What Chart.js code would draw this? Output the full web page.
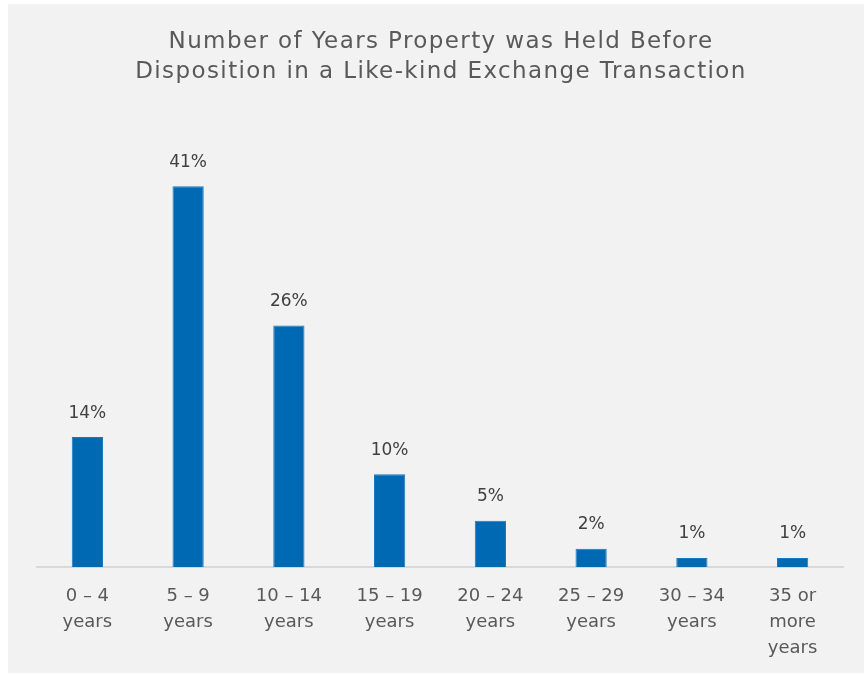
<!DOCTYPE html>
<html>
<head>
<meta charset="utf-8">
<script src="https://cdn.jsdelivr.net/npm/chart.js@4/dist/chart.umd.min.js"></script>
<style>
  html, body { margin: 0; padding: 0; background: #ffffff; }
  #panel { position: absolute; left: 8px; top: 4px; width: 856px; height: 669px; background: #f2f2f2; }
</style>
</head>
<body>
<div id="panel"><canvas id="chart" width="856" height="669"></canvas></div>
<script>
// Holding-period buckets and share of exchanges in each
const categories = [
  ["0 – 4", "years"],
  ["5 – 9", "years"],
  ["10 – 14", "years"],
  ["15 – 19", "years"],
  ["20 – 24", "years"],
  ["25 – 29", "years"],
  ["30 – 34", "years"],
  ["35 or", "more", "years"]
];
const sharePercent = [14, 41, 26, 10, 5, 2, 1, 1];
const titleLines = [
  "Number of Years Property was Held Before",
  "Disposition in a Like-kind Exchange Transaction"
];

const FONT = "'DejaVu Sans', sans-serif";

// Two-line heading, drawn with a little extra tracking
const heading = {
  id: "heading",
  afterDraw(chart) {
    const ctx = chart.ctx;
    const cx = (chart.chartArea.left + chart.chartArea.right) / 2;
    ctx.save();
    ctx.font = "23px " + FONT;
    ctx.letterSpacing = "1.4px";
    ctx.fillStyle = "#595959";
    ctx.textAlign = "center";
    ctx.textBaseline = "middle";
    titleLines.forEach((line, i) => {
      ctx.fillText(line, cx + 1, 38 + i * 30);
    });
    ctx.restore();
  }
};

// Percentage labels above each bar
const valueLabels = {
  id: "valueLabels",
  afterDatasetsDraw(chart) {
    const ctx = chart.ctx;
    const meta = chart.getDatasetMeta(0);
    ctx.save();
    ctx.font = "17px " + FONT;
    ctx.fillStyle = "#404040";
    ctx.textAlign = "center";
    ctx.textBaseline = "middle";
    meta.data.forEach((bar, i) => {
      ctx.fillText(sharePercent[i] + "%", bar.x, bar.y - 24);
    });
    ctx.restore();
  }
};

new Chart(document.getElementById("chart"), {
  type: "bar",
  data: {
    labels: categories,
    datasets: [{
      data: sharePercent,
      backgroundColor: "#0069b4",
      borderColor: "#1a78bd",
      borderWidth: 1,
      categoryPercentage: 1,
      barPercentage: 0.31
    }]
  },
  options: {
    responsive: false,
    animation: false,
    layout: { padding: { left: 29, right: 21, top: 145, bottom: 4 } },
    plugins: {
      legend: { display: false },
      tooltip: { enabled: false },
      title: { display: false }
    },
    scales: {
      x: {
        grid: { display: false },
        border: { display: true, color: "#d9d9d9", width: 2 },
        ticks: {
          color: "#595959",
          font: { family: FONT, size: 18, lineHeight: 1.44 },
          padding: 8,
          maxRotation: 0,
          autoSkip: false
        }
      },
      y: {
        display: false,
        min: 0,
        max: 45
      }
    }
  },
  plugins: [valueLabels, heading]
});
</script>
</body>
</html>
